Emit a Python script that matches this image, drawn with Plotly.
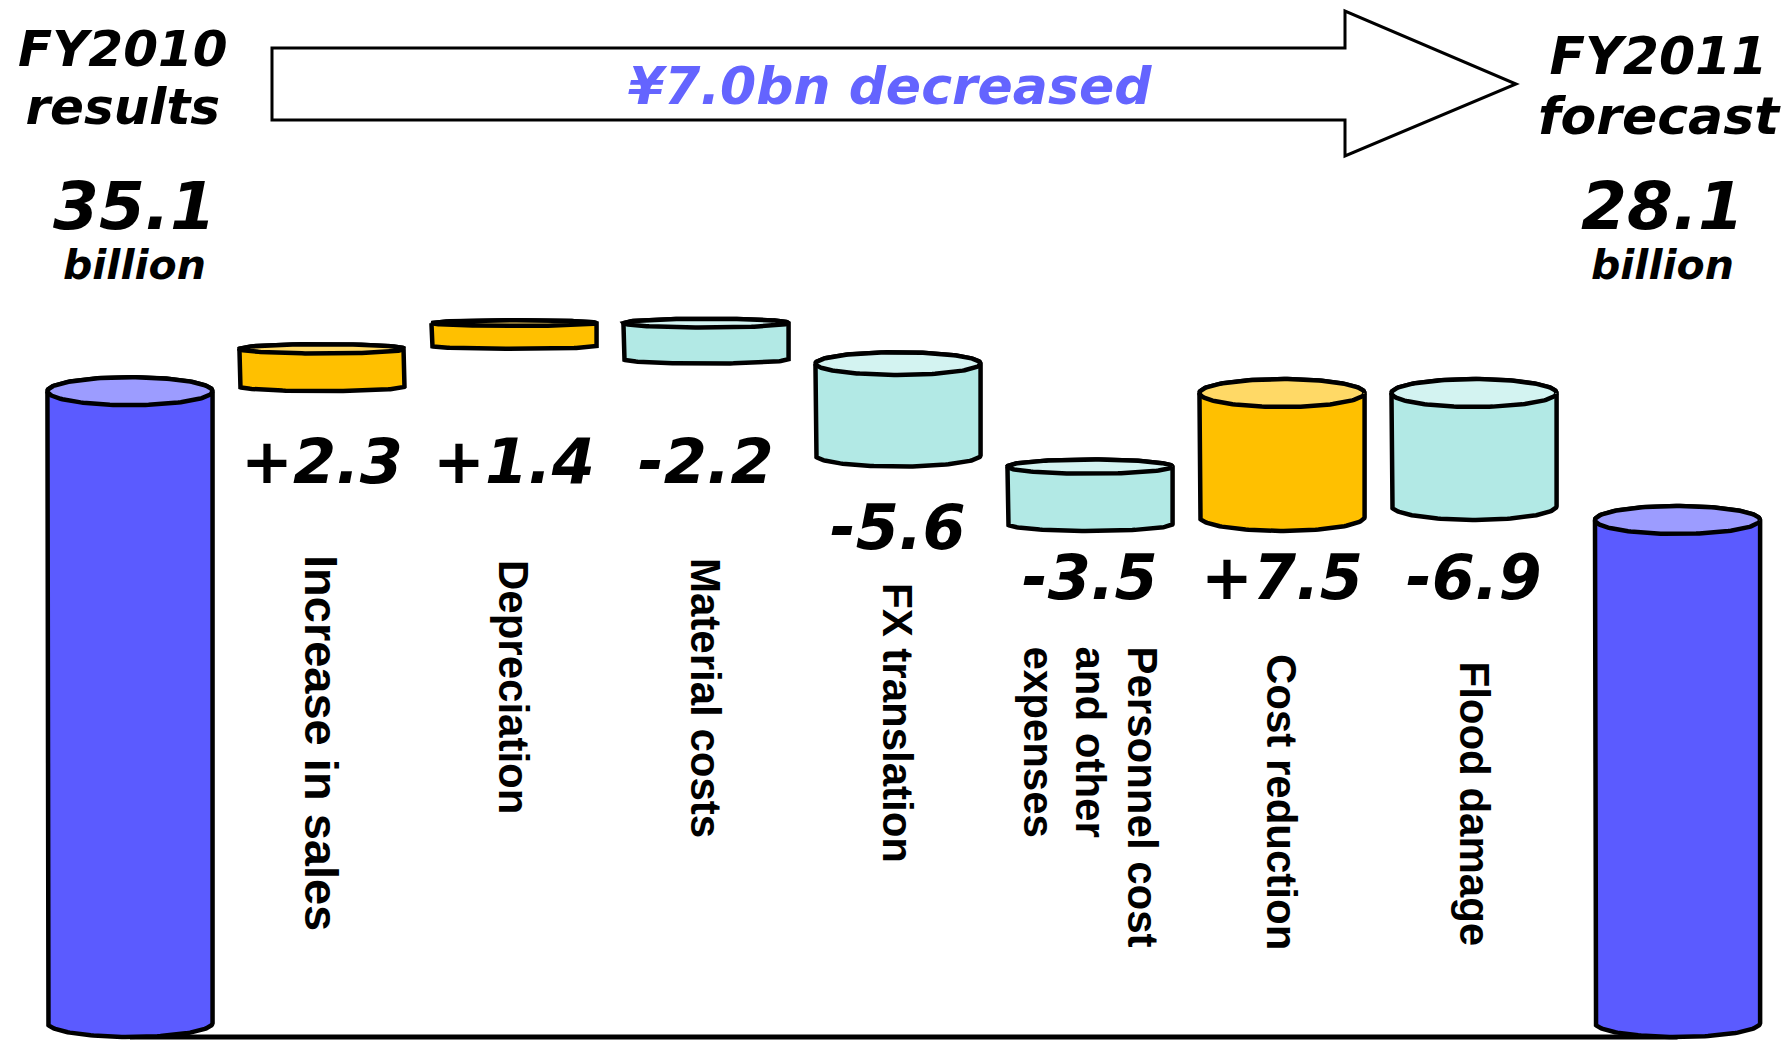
import numpy as np
import plotly.graph_objects as go

# ---------------- data ----------------
period_titles = [("FY2010", "results"), ("FY2011", "forecast")]
start_total = 35.1
end_total = 28.1
step_names = [
    "Increase in sales",
    "Depreciation",
    "Material costs",
    "FX translation",
    "Personnel cost<br>and other<br>expenses",
    "Cost reduction",
    "Flood damage",
]
step_changes = [2.3, 1.4, -2.2, -5.6, -3.5, 7.5, -6.9]
unit_word = "billion"

# ---------------- canvas / scales ----------------
W, H = 1787, 1044
X_RANGE = [-0.677, 8.630]
Y_RANGE = [-0.38, 56.36]
K = H / (Y_RANGE[1] - Y_RANGE[0])          # pixels per billion
HALF_W = 0.43                               # half bar width (x units)

COL_TOTAL, CAP_TOTAL = "#5B5BFF", "#9C9CFF"
COL_UP, CAP_UP = "#FFC000", "#FFD966"
COL_DOWN, CAP_DOWN = "#B2E9E5", "#D3F3F1"
EDGE = 4.5

BIG_FONT = "DejaVu Sans"
LABEL_FONT = "Liberation Sans, Arial, sans-serif"

# slot of each cylinder along the x axis (the closing total sits a bit further out)
n_slots = len(step_changes) + 2
slot_x = [float(i) for i in range(n_slots - 1)] + [n_slots - 1 + 0.06]


def px_x(p):
    return p / W


def px_y(p):
    return 1 - p / H


# ---------------- waterfall levels ----------------
bars = [(slot_x[0], 0.0, start_total, "total")]
level = start_total
for i, c in enumerate(step_changes, start=1):
    new = level + c
    bars.append((slot_x[i], min(level, new), max(level, new), "up" if c > 0 else "down"))
    level = new
bars.append((slot_x[-1], 0.0, end_total, "total"))

fig = go.Figure()


def cylinder(xc, lo, hi, body, cap):
    h_px = (hi - lo) * K
    ry = min(14.0, 0.11 * h_px) / K
    yb = lo + ry
    th = np.linspace(0, np.pi, 80)
    bx = [xc - HALF_W] + list(xc - HALF_W * np.cos(th)) + [xc + HALF_W] + list(xc + HALF_W * np.cos(th))
    by = [hi] + list(yb - ry * np.sin(th)) + [hi] + list(hi + ry * np.sin(th))
    bx.append(bx[0])
    by.append(by[0])
    fig.add_trace(go.Scatter(x=bx, y=by, mode="lines", fill="toself", fillcolor=body,
                             line=dict(color="black", width=EDGE), hoverinfo="skip"))
    ph = np.linspace(0, 2 * np.pi, 160)
    fig.add_trace(go.Scatter(x=xc + HALF_W * np.cos(ph), y=hi + ry * np.sin(ph), mode="lines",
                             fill="toself", fillcolor=cap,
                             line=dict(color="black", width=EDGE), hoverinfo="skip"))


# base line joining the two totals
fig.add_trace(go.Scatter(x=[bars[0][0], bars[-1][0]], y=[0, 0], mode="lines",
                         line=dict(color="black", width=5), hoverinfo="skip"))

palette = {"total": (COL_TOTAL, CAP_TOTAL), "up": (COL_UP, CAP_UP), "down": (COL_DOWN, CAP_DOWN)}
for xc, lo, hi, kind in bars:
    cylinder(xc, lo, hi, *palette[kind])

annotations = []


def big_text(text, x, y, size, color="black", xref="paper"):
    annotations.append(dict(text=f"<b><i>{text}</i></b>", x=x, y=px_y(y), xref=xref, yref="paper",
                            xanchor="center", yanchor="middle", showarrow=False,
                            font=dict(family=BIG_FONT, size=size, color=color)))


def stacked_text(line1, size1, line2, size2, x, y, gap):
    """Two bold-italic lines in one box; line pitch = 1.3 x base font size."""
    base = gap / 1.3
    text = (f'<b><i><span style="font-size:{size1}px">{line1}</span><br>'
            f'<span style="font-size:{size2}px">{line2}</span></i></b>')
    annotations.append(dict(text=text, x=x, y=px_y(y), xref="paper", yref="paper",
                            xanchor="center", yanchor="middle", showarrow=False,
                            font=dict(family=BIG_FONT, size=base, color="black")))


# headers above the two totals (centre y, baseline pitch)
header_x = [123, 1659]
header_y = [78, 86]
header_gap = [58, 60]
header_size = [50, 52]
for (line1, line2), hx, hy, gp, hs in zip(period_titles, header_x, header_y, header_gap, header_size):
    stacked_text(line1, hs, line2, hs, px_x(hx), hy, gp)

# totals with their unit
totals = [start_total, end_total]
total_x = [134, 1662]
for v, tx in zip(totals, total_x):
    stacked_text(f"{v:.1f}", 66, unit_word, 41, px_x(tx), 229, 49.5)

# change values under each step
value_y = [462, 462, 462, 527, 577, 577, 577]
for i, (c, vy) in enumerate(zip(step_changes, value_y), start=1):
    big_text(f"{c:+.1f}", slot_x[i], vy, 62, xref="x")

# rotated step names
label_top = [553, 558, 556, 581, 644, 652, 659]
label_size = [47, 42, 42, 42, 42, 42, 42]
LINE_GAP = 52
for i, (name, top, sz) in enumerate(zip(step_names, label_top, label_size), start=1):
    lines = name.split("<br>")
    n = len(lines)
    for j, ln in enumerate(lines):
        shift = ((n - 1) / 2 - j) * LINE_GAP
        annotations.append(dict(text=f"<b>{ln}</b>", x=slot_x[i], y=px_y(top), xref="x", yref="paper",
                                xanchor="center", yanchor="top", xshift=shift, textangle=90,
                                showarrow=False, font=dict(family=LABEL_FONT, size=sz, color="black")))

# headline inside the arrow
big_text(f"¥{start_total - end_total:.1f}bn decreased", px_x(890), 86, 52, color="#6464FF")

# arrow outline
pts = [(272, 48), (1345, 48), (1345, 11), (1516, 84), (1345, 156), (1345, 120), (272, 120)]
path = "M " + " L ".join(f"{px_x(a):.5f},{px_y(b):.5f}" for a, b in pts) + " Z"
shapes = [dict(type="path", xref="paper", yref="paper", path=path,
               line=dict(color="black", width=3), fillcolor="white", layer="below")]

fig.update_layout(
    width=W, height=H,
    margin=dict(l=0, r=0, t=0, b=0),
    paper_bgcolor="white", plot_bgcolor="white",
    showlegend=False,
    xaxis=dict(range=X_RANGE, visible=False, fixedrange=True),
    yaxis=dict(range=Y_RANGE, visible=False, fixedrange=True),
    annotations=annotations,
    shapes=shapes,
)

fig.write_html("out.html")
